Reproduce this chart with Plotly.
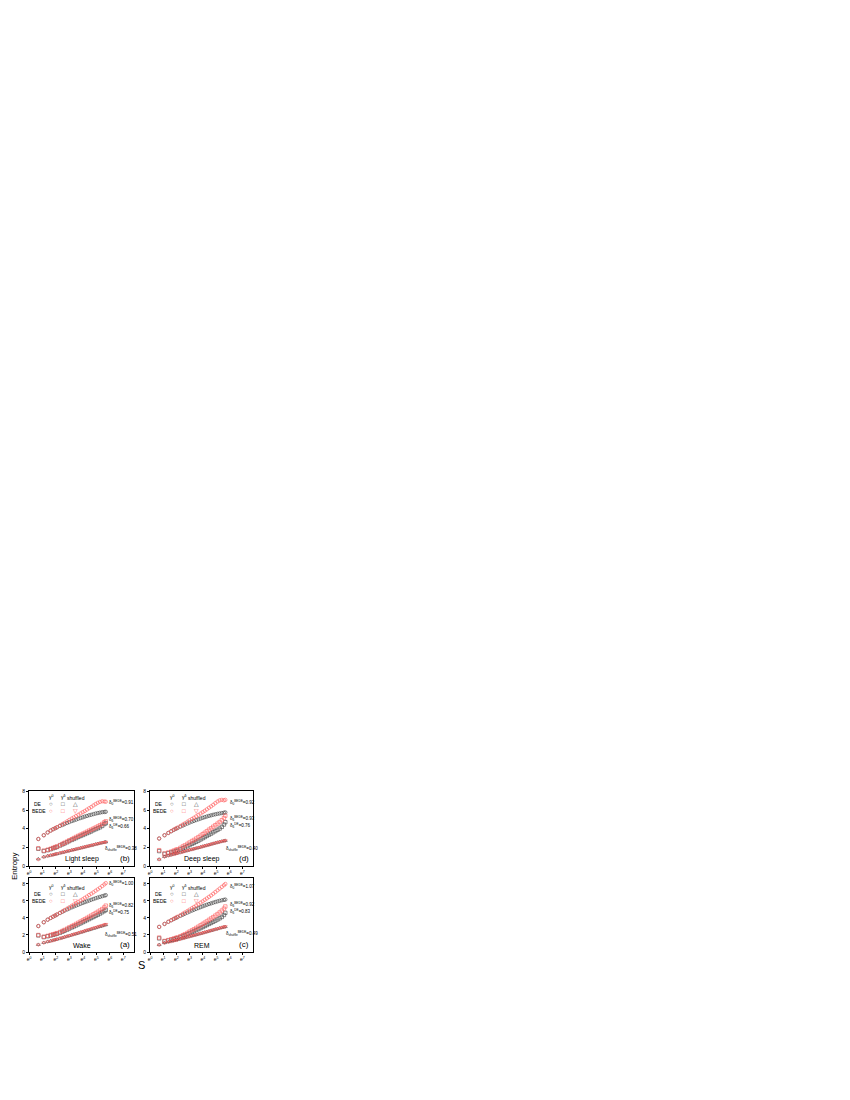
import math
import plotly.graph_objects as go

W, H = 850, 1100
PAGE_OFF = 8  # browser default body margin

# window sizes s (x axis, shown on natural-log scale)
S = [2, 3, 4, 5, 6, 7, 8, 10, 12, 14, 17, 20, 24, 28, 33, 39, 46, 54, 63, 74,
     87, 102, 120, 141, 166, 195, 230, 270, 300]

# ---------------- (b) Light sleep ----------------
b_de_g0 = [2.9, 3.3, 3.6, 3.8, 3.95, 4.05, 4.15, 4.3, 4.4, 4.5, 4.62, 4.72, 4.82, 4.9, 4.98,
           5.07, 5.15, 5.22, 5.3, 5.37, 5.45, 5.5, 5.57, 5.63, 5.68, 5.73, 5.78, 5.8, 5.82]
b_bede_g0 = [2.9, 3.3, 3.6, 3.8, 3.95, 4.07, 4.17, 4.35, 4.5, 4.63, 4.8, 4.95, 5.1, 5.22, 5.36,
             5.5, 5.64, 5.78, 5.9, 6.05, 6.2, 6.33, 6.5, 6.65, 6.78, 6.88, 6.95, 6.92, 6.9]
b_de_gd = [1.85, 1.6, 1.7, 1.8, 1.9, 1.98, 2.05, 2.2, 2.32, 2.42, 2.55, 2.68, 2.8, 2.9, 3.0,
           3.12, 3.22, 3.32, 3.42, 3.52, 3.62, 3.72, 3.85, 3.95, 4.05, 4.15, 4.3, 4.5, 4.6]
b_bede_gd = [1.9, 1.65, 1.75, 1.85, 1.95, 2.03, 2.1, 2.25, 2.38, 2.5, 2.63, 2.76, 2.88, 3.0, 3.12,
             3.24, 3.35, 3.46, 3.56, 3.68, 3.8, 3.9, 4.02, 4.13, 4.25, 4.38, 4.52, 4.7, 4.8]
b_de_sh = [0.75, 0.98, 1.08, 1.15, 1.21, 1.27, 1.31, 1.39, 1.45, 1.51, 1.58, 1.64, 1.7, 1.75, 1.81,
           1.87, 1.93, 1.99, 2.04, 2.1, 2.16, 2.21, 2.27, 2.33, 2.39, 2.44, 2.5, 2.55, 2.58]
b_bede_sh = [0.7, 0.95, 1.06, 1.14, 1.2, 1.26, 1.31, 1.38, 1.45, 1.5, 1.57, 1.63, 1.69, 1.75, 1.81,
             1.86, 1.92, 1.98, 2.04, 2.1, 2.15, 2.21, 2.27, 2.33, 2.38, 2.44, 2.5, 2.54, 2.57]

# ---------------- (d) Deep sleep ----------------
d_de_g0 = [2.95, 3.3, 3.55, 3.73, 3.87, 3.98, 4.07, 4.22, 4.34, 4.44, 4.56, 4.66, 4.76, 4.84, 4.93,
           5.01, 5.09, 5.17, 5.24, 5.31, 5.38, 5.44, 5.5, 5.55, 5.6, 5.64, 5.68, 5.72, 5.75]
d_bede_g0 = [2.95, 3.3, 3.55, 3.75, 3.9, 4.02, 4.12, 4.3, 4.45, 4.58, 4.75, 4.9, 5.05, 5.18, 5.33,
             5.48, 5.63, 5.78, 5.92, 6.08, 6.25, 6.4, 6.57, 6.75, 6.92, 7.05, 7.1, 7.05, 7.1]
d_de_gd = [1.6, 1.3, 1.38, 1.46, 1.53, 1.6, 1.66, 1.78, 1.9, 2.0, 2.13, 2.25, 2.38, 2.48, 2.6,
           2.72, 2.85, 2.98, 3.1, 3.23, 3.36, 3.48, 3.62, 3.75, 3.88, 4.02, 4.2, 4.45, 4.7]
d_bede_gd = [1.7, 1.35, 1.45, 1.55, 1.65, 1.73, 1.8, 1.95, 2.1, 2.22, 2.38, 2.52, 2.68, 2.8, 2.95,
             3.1, 3.26, 3.42, 3.57, 3.73, 3.9, 4.05, 4.22, 4.38, 4.55, 4.72, 4.92, 5.15, 5.4]
d_de_sh = [0.72, 1.0, 1.12, 1.2, 1.27, 1.33, 1.38, 1.46, 1.53, 1.59, 1.66, 1.73, 1.79, 1.85, 1.91,
           1.97, 2.03, 2.1, 2.16, 2.22, 2.28, 2.34, 2.41, 2.47, 2.53, 2.59, 2.65, 2.7, 2.73]
d_bede_sh = [0.7, 0.98, 1.1, 1.18, 1.25, 1.31, 1.36, 1.44, 1.51, 1.58, 1.65, 1.72, 1.78, 1.84, 1.9,
             1.96, 2.02, 2.09, 2.15, 2.21, 2.27, 2.34, 2.4, 2.46, 2.52, 2.58, 2.64, 2.69, 2.72]

# ---------------- (a) Wake ----------------
a_de_g0 = [3.05, 3.5, 3.8, 4.0, 4.15, 4.28, 4.4, 4.58, 4.73, 4.86, 5.0, 5.12, 5.25, 5.35, 5.46,
           5.56, 5.67, 5.77, 5.86, 5.95, 6.05, 6.14, 6.23, 6.32, 6.4, 6.48, 6.56, 6.63, 6.68]
a_bede_g0 = [3.05, 3.5, 3.8, 4.0, 4.17, 4.3, 4.42, 4.62, 4.78, 4.93, 5.1, 5.26, 5.43, 5.57, 5.73,
             5.88, 6.05, 6.2, 6.36, 6.52, 6.7, 6.85, 7.02, 7.2, 7.37, 7.55, 7.75, 7.95, 8.1]
a_de_gd = [1.95, 1.75, 1.85, 1.94, 2.02, 2.09, 2.15, 2.27, 2.39, 2.5, 2.63, 2.76, 2.89, 3.0, 3.12,
           3.25, 3.37, 3.5, 3.62, 3.74, 3.87, 4.0, 4.12, 4.25, 4.38, 4.52, 4.67, 4.82, 4.95]
a_bede_gd = [2.0, 1.8, 1.9, 2.0, 2.08, 2.15, 2.22, 2.35, 2.48, 2.6, 2.75, 2.9, 3.04, 3.16, 3.3,
             3.44, 3.58, 3.72, 3.86, 4.0, 4.14, 4.28, 4.43, 4.58, 4.73, 4.88, 5.05, 5.25, 5.45]
a_de_sh = [0.87, 1.1, 1.22, 1.3, 1.38, 1.45, 1.5, 1.6, 1.68, 1.75, 1.84, 1.92, 2.0, 2.07, 2.15,
           2.22, 2.3, 2.38, 2.46, 2.53, 2.61, 2.68, 2.76, 2.84, 2.92, 2.99, 3.07, 3.15, 3.2]
a_bede_sh = [0.85, 1.08, 1.2, 1.28, 1.36, 1.43, 1.49, 1.59, 1.67, 1.75, 1.84, 1.92, 2.0, 2.08, 2.16,
             2.24, 2.32, 2.4, 2.48, 2.56, 2.64, 2.72, 2.8, 2.88, 2.96, 3.04, 3.12, 3.2, 3.26]

# ---------------- (c) REM ----------------
c_de_g0 = [2.95, 3.3, 3.55, 3.73, 3.87, 3.99, 4.09, 4.25, 4.38, 4.5, 4.63, 4.75, 4.87, 4.97, 5.07,
           5.17, 5.27, 5.37, 5.46, 5.55, 5.64, 5.72, 5.8, 5.88, 5.95, 6.02, 6.08, 6.13, 6.16]
c_bede_g0 = [2.95, 3.3, 3.55, 3.75, 3.9, 4.03, 4.15, 4.33, 4.5, 4.65, 4.82, 4.98, 5.15, 5.3, 5.46,
             5.62, 5.8, 5.96, 6.13, 6.3, 6.48, 6.65, 6.85, 7.05, 7.25, 7.45, 7.65, 7.85, 8.0]
c_de_gd = [1.6, 1.25, 1.35, 1.44, 1.52, 1.58, 1.64, 1.76, 1.88, 1.98, 2.1, 2.22, 2.35, 2.45, 2.57,
           2.69, 2.81, 2.93, 3.05, 3.17, 3.3, 3.42, 3.55, 3.68, 3.82, 3.96, 4.12, 4.35, 4.6]
c_bede_gd = [1.7, 1.3, 1.4, 1.5, 1.58, 1.65, 1.72, 1.85, 1.98, 2.1, 2.25, 2.4, 2.55, 2.68, 2.83,
             2.98, 3.14, 3.3, 3.45, 3.6, 3.78, 3.94, 4.1, 4.28, 4.46, 4.65, 4.87, 5.1, 5.35]
c_de_sh = [0.85, 1.08, 1.18, 1.26, 1.33, 1.39, 1.44, 1.53, 1.61, 1.68, 1.76, 1.83, 1.9, 1.96, 2.03,
           2.1, 2.17, 2.24, 2.31, 2.38, 2.45, 2.52, 2.59, 2.66, 2.73, 2.8, 2.87, 2.93, 2.97]
c_bede_sh = [0.83, 1.05, 1.16, 1.24, 1.31, 1.37, 1.43, 1.52, 1.6, 1.67, 1.75, 1.82, 1.89, 1.96, 2.03,
             2.1, 2.17, 2.24, 2.31, 2.38, 2.45, 2.52, 2.59, 2.66, 2.73, 2.8, 2.87, 2.94, 2.99]

# tick labels
X_TICK_POWERS = [0, 1, 2, 3, 4, 5, 6, 7]
X_TICK_TEXT = ["e<sup>%d</sup>" % k for k in X_TICK_POWERS]
Y_TICKS = [0, 2, 4, 6, 8]

# delta labels per panel: (top BEDE, middle BEDE, middle DE, shuffle BEDE)
DELTAS = {
    "b": ["0.91", "0.70", "0.66", "0.38"],
    "d": ["0.92", "0.93", "0.76", "0.40"],
    "a": ["1.00", "0.82", "0.75", "0.51"],
    "c": ["1.07", "0.92", "0.83", "0.49"],
}
NAMES = {"b": "Light sleep", "d": "Deep sleep", "a": "Wake", "c": "REM"}

RED = "#ff5a5a"
GRAY = "#3c3c3c"

# panel pixel boxes (left, top, right, bottom)
PANELS = {
    "b": dict(box=(29, 791, 134, 866), yr=8.05, axis=1,
              series=(b_de_g0, b_bede_g0, b_de_gd, b_bede_gd, b_de_sh, b_bede_sh),
              lab=(802, 819, 826, 848)),
    "d": dict(box=(150, 791, 253, 866), yr=8.05, axis=2,
              series=(d_de_g0, d_bede_g0, d_de_gd, d_bede_gd, d_de_sh, d_bede_sh),
              lab=(802, 818, 825, 848)),
    "a": dict(box=(29, 878, 134, 952), yr=8.7, axis=3,
              series=(a_de_g0, a_bede_g0, a_de_gd, a_bede_gd, a_de_sh, a_bede_sh),
              lab=(883, 905, 912, 934)),
    "c": dict(box=(150, 878, 253, 952), yr=8.7, axis=4,
              series=(c_de_g0, c_bede_g0, c_de_gd, c_bede_gd, c_de_sh, c_bede_sh),
              lab=(886, 904, 911, 933)),
}


def px(x):
    return (x - PAGE_OFF) / W


def py(y):
    return 1 - (y - PAGE_OFF) / H


fig = go.Figure()
annotations = []
FONT = "Liberation Sans, Arial, sans-serif"
XMAX = 7.8 * math.log10(math.e)

styles = [
    ("circle-open", GRAY), ("circle-open", RED),
    ("square-open", GRAY), ("square-open", RED),
    ("triangle-up-open", GRAY), ("triangle-down-open", RED),
]


def ann(x, y, text, size=5, color="black", xanchor="center", angle=0):
    annotations.append(dict(x=px(x), y=py(y), xref="paper", yref="paper",
                            text=text, showarrow=False, xanchor=xanchor,
                            yanchor="middle", borderpad=0, textangle=angle,
                            font=dict(size=size, family=FONT, color=color)))


for key, p in PANELS.items():
    l, t, r, b = p["box"]
    n = p["axis"]
    xa = "xaxis" if n == 1 else "xaxis%d" % n
    ya = "yaxis" if n == 1 else "yaxis%d" % n
    xref = "x" if n == 1 else "x%d" % n
    yref = "y" if n == 1 else "y%d" % n
    for (sym, col), ys in zip(styles, p["series"]):
        fig.add_trace(go.Scatter(
            x=S, y=ys, mode="markers", xaxis=xref, yaxis=yref, showlegend=False,
            marker=dict(symbol=sym, size=3.4, color=col, line=dict(color=col, width=0.6)),
        ))
    axis_common = dict(showline=True, linecolor="black", linewidth=0.8, mirror=True,
                       showgrid=False, zeroline=False, ticks="outside", ticklen=2,
                       tickwidth=0.7, tickcolor="black", automargin=False,
                       tickfont=dict(size=5, family=FONT, color="black"))
    fig.layout[xa] = dict(axis_common, type="log", domain=[px(l), px(r)],
                          range=[0, XMAX],
                          tickvals=[math.e ** k for k in X_TICK_POWERS],
                          ticktext=X_TICK_TEXT, anchor=yref)
    fig.layout[ya] = dict(axis_common, domain=[py(b), py(t)], range=[0, p["yr"]],
                          tickvals=Y_TICKS, ticktext=[str(v) for v in Y_TICKS],
                          anchor=xref)

    # legend block (text + glyphs)
    top_off = 6 if p["yr"] < 8.5 else 9
    r1 = t + top_off
    r2 = r1 + 6.5
    r3 = r2 + 7
    ann(l + 22, r1, "γ<sup>0</sup>")
    ann(l + 34, r1, "γ<sup>δ</sup>")
    ann(l + 47, r1 + 1, "shuffled")
    ann(l + 9, r2, "DE")
    ann(l + 10, r3, "BEDE")
    ann(l + 22, r2, "○", 6, GRAY)
    ann(l + 34, r2, "□", 6, GRAY)
    ann(l + 46, r2, "△", 6, GRAY)
    ann(l + 22, r3, "○", 6, RED)
    ann(l + 34, r3, "□", 6, RED)
    ann(l + 46, r3, "▽", 6, RED)

    d = DELTAS[key]
    ly = p["lab"]
    lx = r - 26 if key in ("b", "a") else r - 24
    ann(lx, ly[0], "δ<sub>0</sub><sup>BEDE</sup>=" + d[0], 4.5, xanchor="left")
    ann(lx, ly[1], "δ<sub>δ</sub><sup>BEDE</sup>=" + d[1], 4.5, xanchor="left")
    ann(lx, ly[2], "δ<sub>δ</sub><sup>DE</sup>=" + d[2], 4.5, xanchor="left")
    ann(lx - 4, ly[3], "δ<sub>shuffle</sub><sup>BEDE</sup>=" + d[3], 4.5, xanchor="left")

    # panel name and letter
    ann((l + r) / 2, b - 7, NAMES[key], 7)
    ann(r - 9, b - 8, "(%s)" % key, 8)

# axis titles
ann(14, 866, "Entropy", 8, angle=-90)
ann(141, 965, "S", 11)

fig.update_layout(template="none", width=W, height=H, margin=dict(l=0, r=0, t=0, b=0),
                  paper_bgcolor="white", plot_bgcolor="white",
                  annotations=annotations, showlegend=False)

fig.write_html("out.html")
